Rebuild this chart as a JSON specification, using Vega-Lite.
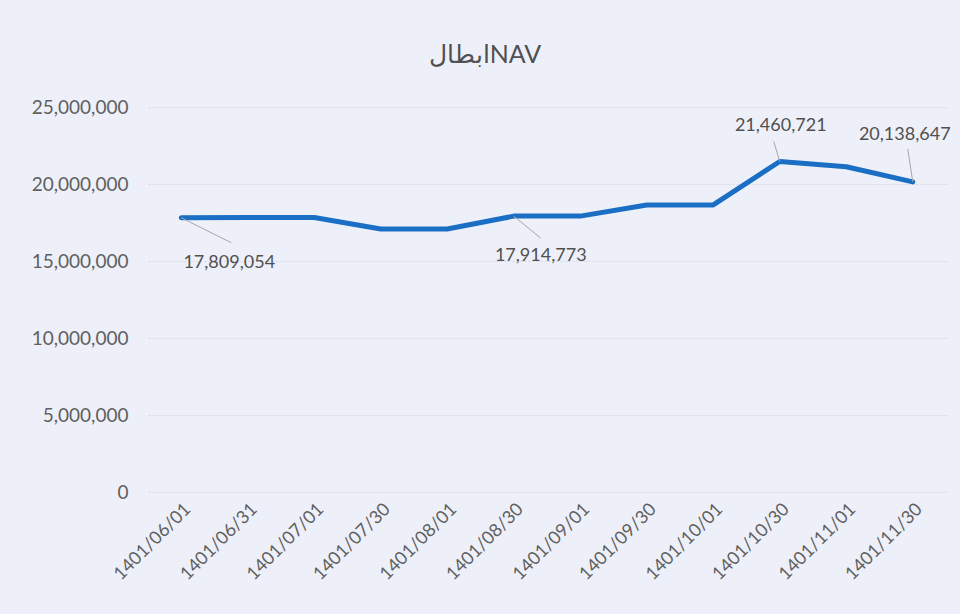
{
  "$schema": "https://vega.github.io/schema/vega-lite/v6.json",
  "autosize": "none",
  "padding": {"left": 148, "top": 107, "right": 14, "bottom": 122},
  "width": 798,
  "height": 385,
  "background": "#eef0f9",
  "title": {
    "text": "ابطالNAV",
    "font": "Lato",
    "fontSize": 25,
    "fontWeight": "normal",
    "color": "#505050",
    "anchor": "middle",
    "dx": -62,
    "offset": 30
  },
  "config": {
    "view": {"stroke": null},
    "font": "Lato"
  },
  "data": {
    "values": [
      {"date": "1401/06/01", "nav": 17809054},
      {"date": "1401/06/31", "nav": 17820000},
      {"date": "1401/07/01", "nav": 17820000},
      {"date": "1401/07/30", "nav": 17080000},
      {"date": "1401/08/01", "nav": 17080000},
      {"date": "1401/08/30", "nav": 17914773},
      {"date": "1401/09/01", "nav": 17914773},
      {"date": "1401/09/30", "nav": 18640000},
      {"date": "1401/10/01", "nav": 18640000},
      {"date": "1401/10/30", "nav": 21460721},
      {"date": "1401/11/01", "nav": 21120000},
      {"date": "1401/11/30", "nav": 20138647}
    ]
  },
  "encoding": {
    "x": {
      "field": "date",
      "type": "ordinal",
      "sort": null,
      "scale": {"type": "point", "padding": 0.5},
      "axis": {
        "title": null,
        "labelAngle": -45,
        "labelAlign": "right",
        "labelBaseline": "top",
        "labelFont": "Lato",
        "labelFontSize": 18,
        "labelColor": "#606060",
        "labelPadding": 8,
        "ticks": false,
        "domain": false,
        "grid": false
      }
    },
    "y": {
      "field": "nav",
      "type": "quantitative",
      "scale": {"domain": [0, 25000000], "nice": false},
      "axis": {
        "title": null,
        "values": [0, 5000000, 10000000, 15000000, 20000000, 25000000],
        "format": ",d",
        "labelFont": "Lato",
        "labelFontSize": 19,
        "labelColor": "#606060",
        "labelPadding": 20,
        "ticks": false,
        "domain": false,
        "gridColor": "#d6d7df",
        "gridDash": [2, 2],
        "gridWidth": 1
      }
    }
  },
  "layer": [
    {
      "mark": {"type": "line", "color": "#1a6fc4", "strokeWidth": 5, "strokeCap": "round", "strokeJoin": "round"}
    },
    {
      "transform": [{"filter": "datum.date == '1401/06/01'"}],
      "layer": [
        {"mark": {"type": "rule", "color": "#a6a6a6", "strokeWidth": 1, "x2Offset": 50, "y2Offset": 25}, "encoding": {"x2": {"field": "date"}, "y2": {"field": "nav"}}},
        {"mark": {"type": "text", "dx": 48, "dy": 45, "fontSize": 18, "color": "#505050", "font": "Lato"}, "encoding": {"text": {"field": "nav", "format": ",d"}}}
      ]
    },
    {
      "transform": [{"filter": "datum.date == '1401/08/30'"}],
      "layer": [
        {"mark": {"type": "rule", "color": "#a6a6a6", "strokeWidth": 1, "x2Offset": 27, "y2Offset": 22}, "encoding": {"x2": {"field": "date"}, "y2": {"field": "nav"}}},
        {"mark": {"type": "text", "dx": 27, "dy": 40, "fontSize": 18, "color": "#505050", "font": "Lato"}, "encoding": {"text": {"field": "nav", "format": ",d"}}}
      ]
    },
    {
      "transform": [{"filter": "datum.date == '1401/10/30'"}],
      "layer": [
        {"mark": {"type": "rule", "color": "#a6a6a6", "strokeWidth": 1, "x2Offset": -6, "y2Offset": -20}, "encoding": {"x2": {"field": "date"}, "y2": {"field": "nav"}}},
        {"mark": {"type": "text", "dx": 1, "dy": -36, "fontSize": 18, "color": "#505050", "font": "Lato"}, "encoding": {"text": {"field": "nav", "format": ",d"}}}
      ]
    },
    {
      "transform": [{"filter": "datum.date == '1401/11/30'"}],
      "layer": [
        {"mark": {"type": "rule", "color": "#a6a6a6", "strokeWidth": 1, "x2Offset": -5, "y2Offset": -33}, "encoding": {"x2": {"field": "date"}, "y2": {"field": "nav"}}},
        {"mark": {"type": "text", "dx": -8, "dy": -47, "fontSize": 18, "color": "#505050", "font": "Lato"}, "encoding": {"text": {"field": "nav", "format": ",d"}}}
      ]
    }
  ]
}
